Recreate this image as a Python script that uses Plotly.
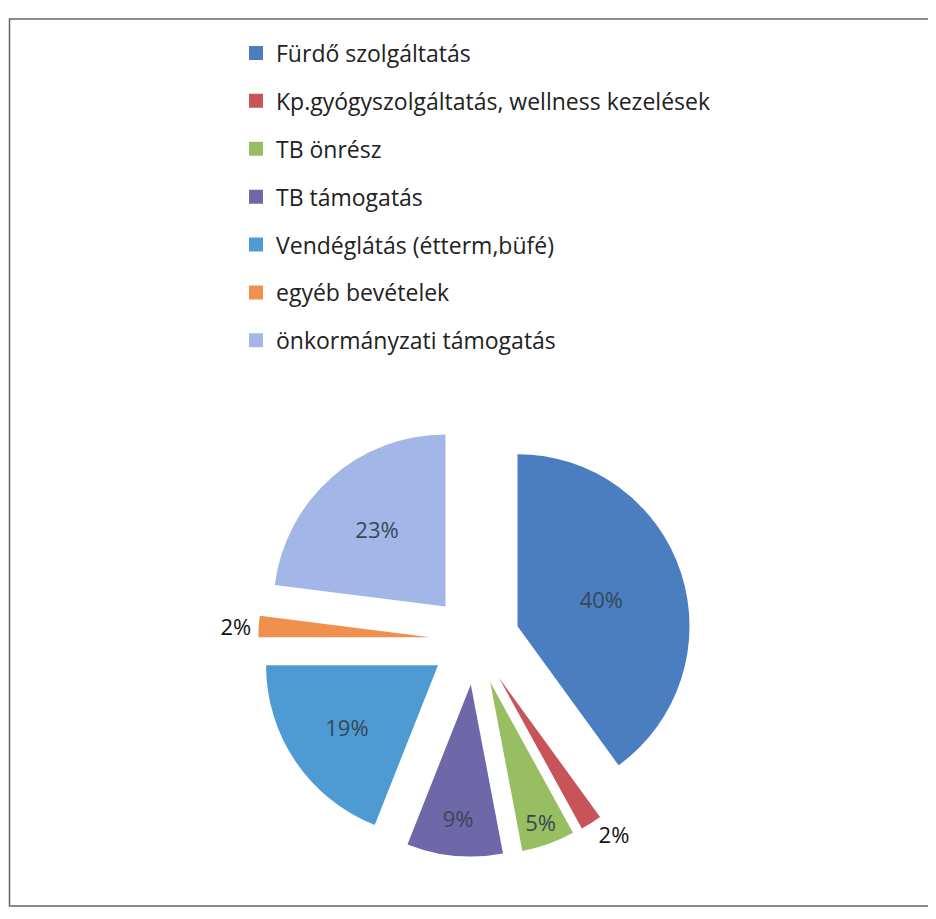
import plotly.graph_objects as go

labels = ["Fürdő szolgáltatás",
          "Kp.gyógyszolgáltatás, wellness kezelések",
          "TB önrész",
          "TB támogatás",
          "Vendéglátás (étterm,büfé)",
          "egyéb bevételek",
          "önkormányzati támogatás"]
values = [40, 2, 5, 9, 19, 2, 23]
colors = ["#4A7EC0", "#C8545A", "#98BE62", "#6E68A8", "#4E9BD4", "#F0904E", "#A3B6E8"]
text_pos = ["inside", "outside", "inside", "inside", "inside", "outside", "inside"]

FONT = "Open Sans"
W, H = 936, 919

fig = go.Figure()

fig.add_trace(go.Pie(
    labels=labels,
    values=values,
    sort=False,
    direction="clockwise",
    rotation=0,
    pull=0.26,
    automargin=False,
    marker=dict(colors=colors, line=dict(width=0)),
    textinfo="percent",
    texttemplate="%{percent:.0%}",
    textposition=text_pos,
    insidetextorientation="horizontal",
    insidetextfont=dict(family=FONT, size=22, color="#384756"),
    outsidetextfont=dict(family=FONT, size=22, color="#111111"),
    domain=dict(x=[250.3 / W, 683.7 / W], y=[1 - 848.7 / H, 1 - 415.3 / H]),
    showlegend=False,
    hoverinfo="label+percent",
))

# legend entries (one per category, spaced like the original)
for lab, col in zip(labels, colors):
    fig.add_trace(go.Scatter(
        x=[None], y=[None], mode="markers",
        marker=dict(symbol="square", size=14, color=col),
        name=lab, legendgroup=lab, showlegend=True, hoverinfo="skip",
    ))

fig.update_layout(
    width=W, height=H,
    margin=dict(l=0, r=0, t=0, b=0, autoexpand=False),
    paper_bgcolor="white",
    plot_bgcolor="white",
    font=dict(family=FONT, size=23, color="#222222"),
    xaxis=dict(visible=False),
    yaxis=dict(visible=False),
    legend=dict(
        x=228 / W, xanchor="left",
        y=1 - 23.5 / H, yanchor="top",
        tracegroupgap=15,
        itemsizing="trace",
        font=dict(family=FONT, size=23, color="#222222"),
        bgcolor="rgba(0,0,0,0)",
    ),
    shapes=[dict(type="rect", xref="paper", yref="paper",
                 x0=1.5 / W, x1=1.02, y0=1 - 898 / H, y1=1 - 11 / H,
                 line=dict(color="#666666", width=1.5))],
)

fig.write_html("out.html")
